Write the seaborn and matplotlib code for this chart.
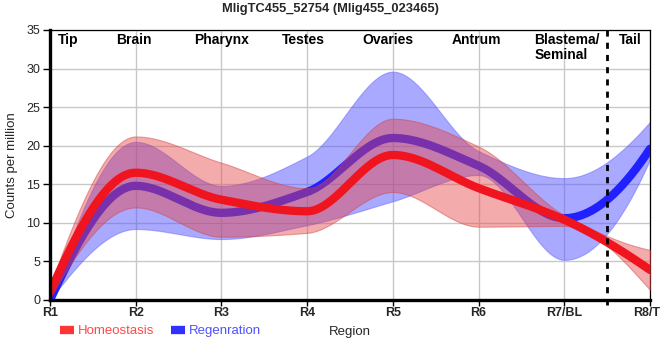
import matplotlib
matplotlib.use("Agg")
import matplotlib.pyplot as plt
from matplotlib.lines import Line2D
import numpy as np
import pandas as pd
import seaborn as sns

# values at each region (counts per million)
regions = ["R1", "R2", "R3", "R4", "R5", "R6", "R7/BL", "R8/TL"]
homeo_mean = [1.0, 16.5, 13.0, 11.5, 18.8, 14.5, 10.4, 3.9]
homeo_lo = [0.2, 12.0, 8.2, 8.7, 14.0, 9.5, 9.6, 1.3]
homeo_hi = [1.8, 21.2, 17.8, 14.5, 23.5, 19.9, 11.0, 6.5]
regen_mean = [0.0, 14.8, 11.3, 14.0, 21.0, 17.4, 10.6, 19.6]
regen_lo = [0.0, 9.2, 7.9, 9.7, 12.8, 16.2, 5.2, 18.2]
regen_hi = [0.0, 20.5, 14.8, 18.6, 29.6, 19.3, 15.8, 23.1]

zone_names = ["Tip", "Brain", "Pharynx", "Testes", "Ovaries", "Antrum", "Blastema/\nSeminal", "Tail"]
zone_pos = [0.21, 0.98, 2.0, 2.96, 3.94, 4.98, 5.65, 6.77]

RED = "#f0141e"
BLUE = "#2121ff"


def monotone(xs, ys, n=60):
    # monotone cubic (pchip-like) curve through the points, only for drawing
    xs = np.asarray(xs, float)
    ys = np.asarray(ys, float)
    h = np.diff(xs)
    d = np.diff(ys) / h
    m = np.zeros_like(ys)
    for k in range(1, len(ys) - 1):
        if d[k - 1] * d[k] > 0:
            w1 = 2 * h[k] + h[k - 1]
            w2 = h[k] + 2 * h[k - 1]
            m[k] = (w1 + w2) / (w1 / d[k - 1] + w2 / d[k])
    for k, (a, b, ha, hb) in {0: (d[0], d[1], h[0], h[1]), -1: (d[-1], d[-2], h[-1], h[-2])}.items():
        e = ((2 * ha + hb) * a - ha * b) / (ha + hb)
        if np.sign(e) != np.sign(a):
            e = 0.0
        elif np.sign(a) != np.sign(b) and abs(e) > abs(3 * a):
            e = 3 * a
        m[k] = e
    out_x, out_y = [], []
    for k in range(len(xs) - 1):
        t = np.linspace(0, 1, n, endpoint=(k == len(xs) - 2))
        h00 = 2 * t**3 - 3 * t**2 + 1
        h10 = t**3 - 2 * t**2 + t
        h01 = -2 * t**3 + 3 * t**2
        h11 = t**3 - t**2
        out_x.append(xs[k] + t * h[k])
        out_y.append(h00 * ys[k] + h10 * h[k] * m[k] + h01 * ys[k + 1] + h11 * h[k] * m[k + 1])
    return np.concatenate(out_x), np.concatenate(out_y)


sns.set_theme(style="whitegrid")
plt.rcParams["font.family"] = ["Liberation Sans", "DejaVu Sans"]

fig = plt.figure(figsize=(6.6, 3.6), dpi=100)
ax = fig.add_axes([50 / 660, 60 / 360, 600 / 660, 270 / 360])
ax.set_facecolor("white")

pos = np.arange(len(regions))

# regeneration band + line first, homeostasis on top
sx, lo = monotone(pos, regen_lo)
_, hi = monotone(pos, regen_hi)
ax.fill_between(sx, lo, hi, color="#4d4dff", alpha=0.48, linewidth=0.8, edgecolor="#6060ff", zorder=2)
_, ym = monotone(pos, regen_mean)
sns.lineplot(x=sx, y=ym, ax=ax, color=BLUE, linewidth=6, zorder=3, sort=False)

sx, lo = monotone(pos, homeo_lo)
_, hi = monotone(pos, homeo_hi)
ax.fill_between(sx, lo, hi, color="#e64545", alpha=0.45, linewidth=0.8, edgecolor="#d04040", zorder=4)
_, ym = monotone(pos, homeo_mean)
sns.lineplot(x=sx, y=ym, ax=ax, color=RED, linewidth=6, zorder=5, sort=False)

ax.axvline(6.5, ymin=-0.02, ymax=1, color="black", linewidth=2, linestyle=(0, (2.2, 2.2)), zorder=6, clip_on=False)

for name, xp in zip(zone_names, zone_pos):
    ax.text(xp, 34.6, name, ha="left" if "/" in name else "center", va="top",
            fontsize=10, fontweight="bold", color="black", zorder=7, linespacing=1.1)

ax.set_xlim(0, 7)
ax.set_ylim(0, 35)
ax.set_xticks(pos)
ax.set_xticklabels(regions, fontsize=9, fontweight="bold")
ax.set_yticks(np.arange(0, 36, 5))
ax.tick_params(axis="y", labelsize=9, length=5, width=1, color="black", pad=2, left=True)
ax.tick_params(axis="x", length=4, width=1, color="black", pad=1, bottom=True)
ax.grid(True, color="#c8c8c8", linewidth=1)
ax.set_axisbelow(True)

for side in ["top", "right"]:
    ax.spines[side].set_color("black")
    ax.spines[side].set_linewidth(0.9)
for side in ["left", "bottom"]:
    ax.spines[side].set_color("black")
    ax.spines[side].set_linewidth(2.4)
    ax.spines[side].set_zorder(8)

ax.set_ylabel("Counts per million", fontsize=9.5, labelpad=6)
ax.set_xlabel("Region", fontsize=9.5, labelpad=5)
fig.suptitle("MligTC455_52754 (Mlig455_023465)", x=0.5, y=1 - 9 / 360, va="center",
             fontsize=9.3, fontweight="bold")

handles = [Line2D([0], [0], color="#ff3535", linewidth=6, solid_capstyle="butt"),
           Line2D([0], [0], color="#3030ff", linewidth=6, solid_capstyle="butt")]
leg = fig.legend(handles, ["Homeostasis", "Regenration"], loc="center left",
                 bbox_to_anchor=(48 / 660, 1 - 331 / 360), ncol=2, frameon=False,
                 fontsize=9.5, handlelength=1.1, handletextpad=0.3, columnspacing=1.2)
for txt, c in zip(leg.get_texts(), ["#ff4848", "#5050ff"]):
    txt.set_color(c)

fig.savefig("out.png", dpi=100)
